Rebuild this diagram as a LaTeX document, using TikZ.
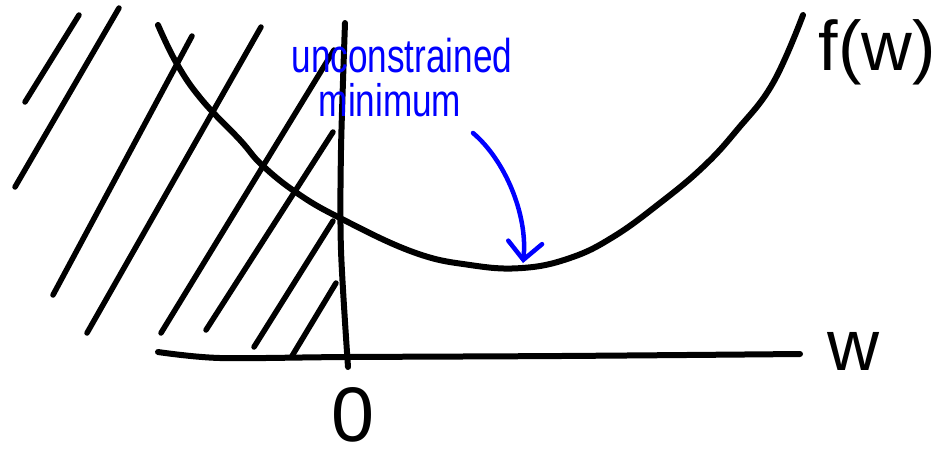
\documentclass[tikz,border=0pt]{standalone}
\usepackage{fontspec}
\setmainfont{Liberation Sans}
\usepackage{tikz}
\usetikzlibrary{arrows.meta,positioning}
\definecolor{inkblue}{RGB}{0,0,255}
\tikzset{
    ink/.style={draw, line width=0.12cm, line cap=round, line join=round},
    hatch/.style={ink, line width=0.11cm},
    note/.style={inkblue, font=\fontsize{20}{22}\selectfont, inner sep=0pt, anchor=base},
    notearrow/.style={draw=inkblue, line width=0.09cm, line cap=round,
        -{Straight Barb[length=3.5mm, width=6.8mm, line cap=round]}},
    label/.style={font=\fontsize{#1}{#1}\selectfont, inner sep=0pt}
}

\begin{document}
\begin{tikzpicture}[x=0.02cm, y=-0.02cm]
    \useasboundingbox (0,0) rectangle (937,458);

    % axes
    \coordinate (xl) at (158,352);
    \coordinate (xr) at (800,354);
    \coordinate (yt) at (345,23);
    \coordinate (yb) at (348,367);
    \draw[ink] plot[smooth, tension=0.5] coordinates {(xl) (220,358) (347,357) (560,356) (xr)};
    \draw[ink] plot[smooth, tension=0.5] coordinates {(yt) (341,150) (341,250) (yb)};

    % hatching left of zero
    \foreach \a/\b in {{25,102}/{79,15}, {15,187}/{119,8}, {53,295}/{192,36},
                       {87,333}/{261,27}, {161,333}/{334,50}, {206,330}/{333,132},
                       {254,347}/{333,221}, {292,356}/{336,283}}
        \draw[hatch] (\a) -- (\b);

    % the function
    \draw[ink] plot[smooth, tension=0.7] coordinates {
        (158,25) (177,64) (202,100) (240,140) (262,165) (297,193) (340,218)
        (413,252) (470,265) (522,268) (570,258) (613,237)
        (660,203) (703,167) (737,130) (773,83) (803,15)};

    % labels
    \node[label=40] (fw) at (877,52) {f(w)};
    \node[label=41] (w) at (854,351) {w};
    \node[label=44] (zero) at (353,415) {0};

    % note and arrow
    \node[note] (unc) at (402,72) {\scalebox{1}[1.35]{unconstrained}};
    \node[note] (mini) at (390,116) {\scalebox{1}[1.3]{minimum}};
    \coordinate (arrstart) at (473,133);
    \coordinate (arrtip) at (523,263);
    \draw[notearrow] (arrstart) .. controls (505,160) and (528,215) .. (arrtip);
\end{tikzpicture}
\end{document}
